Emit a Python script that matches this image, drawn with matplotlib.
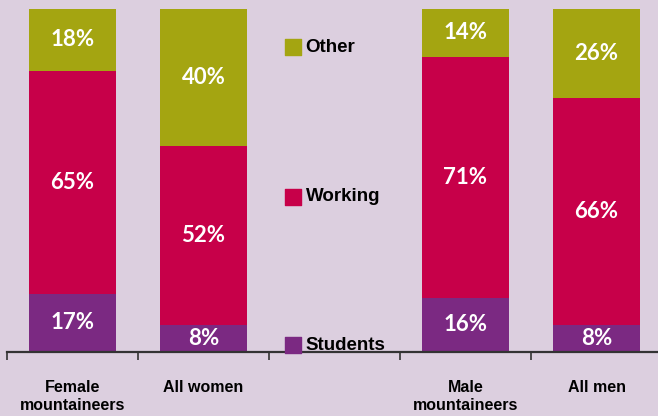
import matplotlib.pyplot as plt
import numpy as np

groups = ['Female\nmountaineers', 'All women', '', 'Male\nmountaineers', 'All men']
students = [17, 8, None, 16, 8]
working = [65, 52, None, 71, 66]
other = [18, 40, None, 14, 26]

legend_names = ['Other', 'Working', 'Students']
legend_y = [88.8, 45.3, 1.9]

bg = '#dccfdf'
c_students = '#7b2982'
c_working = '#c70049'
c_other = '#a4a511'

fig = plt.figure(figsize=(6.58, 4.16), dpi=100)
fig.patch.set_facecolor(bg)
ax = fig.add_axes([7 / 658, 64 / 416, 655 / 658, 343 / 416])
ax.set_facecolor(bg)

for i, (s, w, o) in enumerate(zip(students, working, other)):
    if s is None:
        continue
    # shares are rounded, so scale each bar to a full 100
    tot = s + w + o
    vals = [s * 100 / tot, w * 100 / tot, o * 100 / tot]
    labels = [s, w, o]
    bottom = 0
    for v, lab, col in zip(vals, labels, [c_students, c_working, c_other]):
        ax.bar(i, v, bottom=bottom, width=0.67, color=col)
        ax.text(i, bottom + v / 2, '%d%%' % lab, ha='center', va='center',
                color='white', fontsize=16, fontweight='bold', family=['Lato', 'DejaVu Sans'])
        bottom += v

for name, y, col in zip(legend_names, legend_y, [c_other, c_working, c_students]):
    ax.scatter([1.68], [y], marker='s', s=120, color=col, clip_on=False, zorder=3)
    ax.text(1.78, y, name, ha='left', va='center', fontsize=13.5, fontweight='bold',
            family=['Liberation Sans', 'DejaVu Sans'], color='black')

ax.set_xlim(-0.5, 4.5)
ax.set_ylim(0, 100)
for sp in ['top', 'right', 'left']:
    ax.spines[sp].set_visible(False)
ax.spines['bottom'].set_linewidth(1.6)
ax.spines['bottom'].set_color('#333333')
ax.set_yticks([])
ax.set_xticks(np.arange(-0.5, 5, 1))
ax.set_xticklabels([])
ax.tick_params(axis='x', which='major', length=6, width=1.2, color='#333333')
ax.set_xticks(range(5), minor=True)
ax.set_xticklabels(groups, minor=True, fontsize=11.5, fontweight='bold', color='black',
                   family=['Liberation Sans', 'DejaVu Sans'], linespacing=1.3, va='top')
ax.tick_params(axis='x', which='minor', length=0, pad=20)

plt.savefig('out.png', dpi=100, facecolor=bg)
